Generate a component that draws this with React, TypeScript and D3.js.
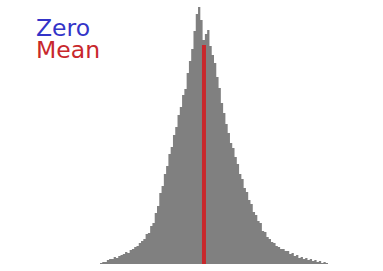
import * as d3 from 'd3';

// histogram of residuals, one count per bin
const binStart = -2.2;
const binWidth = 0.05;
const counts = [
  1, 2, 2, 4, 5, 5, 7, 6, 8, 9,
  10, 12, 11, 14, 15, 17, 18, 21, 23, 25,
  30, 31, 38, 41, 51, 58, 71, 78, 90, 98,
  110, 117, 129, 137, 149, 157, 169, 175, 191, 203,
  215, 233, 250, 257, 244, 224, 230, 234, 218, 209,
  201, 187, 176, 161, 151, 140, 131, 121, 116, 107,
  100, 90, 85, 76, 72, 64, 60, 52, 49, 43,
  41, 33, 32, 27, 25, 22, 21, 18, 17, 15,
  15, 13, 13, 10, 11, 8, 9, 6, 7, 5,
  6, 4, 5, 3, 4, 2, 3, 1, 2, 1,
];

const markers = [
  { label: 'Zero', value: 0, height: 219, color: '#3434c8' },
  { label: 'Mean', value: 0.08, height: 219, color: '#c8282c' },
];

const W = 383;
const H = 271;

export default function App() {
  const x = d3
    .scaleLinear()
    .domain([binStart, binStart + counts.length * binWidth])
    .range([100, 328]);
  const y = d3.scaleLinear().domain([0, 257]).range([264, 7]);

  // step outline of the histogram, last count repeated to close the final bin
  const pts = counts.map((c, i) => ({ v: binStart + i * binWidth, c }));
  pts.push({ v: binStart + counts.length * binWidth, c: counts[counts.length - 1] });
  const area = d3
    .area<{ v: number; c: number }>()
    .x((d) => x(d.v))
    .y0(y(0))
    .y1((d) => y(d.c))
    .curve(d3.curveStepAfter);

  const zero = markers[0];
  const mean = markers[1];

  return (
    <svg width={W} height={H} style={{ position: 'absolute', left: 0, top: 0, background: '#fff' }}>
      {/* zero line sits behind the bars */}
      <rect x={x(zero.value) - 2} y={y(zero.height)} width={4} height={y(0) - y(zero.height)} fill={zero.color} />
      <path d={area(pts) ?? ''} fill="#808080" />
      <rect x={x(mean.value) - 2} y={y(mean.height)} width={4} height={y(0) - y(mean.height)} fill={mean.color} />
      <g fontFamily="DejaVu Sans, Verdana, sans-serif" fontSize={23.5}>
        {markers.map((m, i) => (
          <text key={m.label} x={36} y={36 + i * 22} fill={m.color}>
            {m.label}
          </text>
        ))}
      </g>
    </svg>
  );
}
